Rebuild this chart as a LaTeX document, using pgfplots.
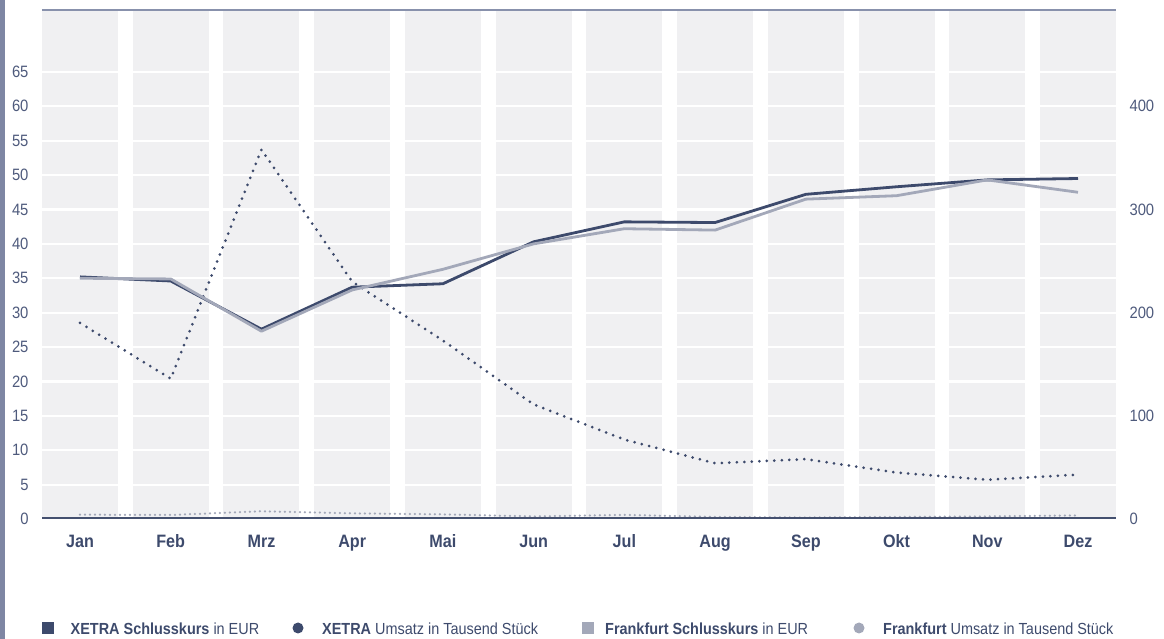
\documentclass[border=0pt]{standalone}
\usepackage{fontspec}
\setmainfont{Liberation Sans}[FakeStretch=0.9]
\usepackage{pgfplots}
\pgfplotsset{compat=1.18}
\definecolor{navy}{HTML}{3D4A6C}
\definecolor{lgray}{HTML}{A3A8B9}
\definecolor{band}{HTML}{F0F0F2}
\definecolor{strip}{HTML}{7E86A3}
\definecolor{tickc}{HTML}{4E5A7C}
\definecolor{topline}{HTML}{8891AC}
\definecolor{axisc}{HTML}{44506F}

\pgfplotstableread{
x xs fs xu fu
0 35.2 35.0 190 4.2
1 34.6 34.9 136 3.9
2 27.6 27.3 358 7.5
3 33.7 33.3 230 5.5
4 34.2 36.3 173 4.5
5 40.3 40.0 111 2.5
6 43.2 42.2 77 4.0
7 43.1 42.0 54 2.0
8 47.2 46.5 58 1.5
9 48.3 47.0 45 2.0
10 49.3 49.3 38 2.5
11 49.5 47.5 43 3.5
}\data

\pgfplotsset{base/.style={
  at={(42bp,120bp)}, anchor=south west, scale only axis,
  width=1074bp, height=509bp,
  xmin=-0.4188, xmax=11.4188,
  axis line style={draw=none}, major tick length=0pt,
  /pgf/number format/assume math mode=true,
  tick label style={font=\fontsize{16.5}{19}\selectfont, text=tickc},
}}

\begin{document}
\begin{tikzpicture}
\useasboundingbox (0,0) rectangle (1164bp,639bp);
\fill[strip] (0,0) rectangle (5bp,639bp);

\begin{axis}[base,
  ymin=0, ymax=74, ytick={0,5,...,65},
  yticklabel style={anchor=east, xshift=-10bp},
  xtick={0,...,11},
  xticklabels={Jan,Feb,Mrz,Apr,Mai,Jun,Jul,Aug,Sep,Okt,Nov,Dez},
  xticklabel style={anchor=base, yshift=-29bp, font=\bfseries\fontsize{18}{21}\selectfont, text=navy},
]
\pgfplotsinvokeforeach{0,...,11}{
  \fill[band] (axis cs:#1-0.4188,0) rectangle (axis cs:#1+0.4188,74);
}
\pgfplotsinvokeforeach{5,10,...,65}{
  \draw[white, line width=2.2bp] (axis cs:-0.4188,#1) -- (axis cs:11.4188,#1);
}
\draw[topline, line width=1.6bp] (rel axis cs:0,1) -- (rel axis cs:1,1);
\end{axis}

\begin{axis}[base,
  ymin=0, ymax=493.333, ytick={0,100,...,400},
  axis y line*=right, axis x line=none,
  yticklabel style={anchor=west, xshift=10bp},
  xtick=\empty,
]
\addplot[navy, line width=3bp, line cap=round, line join=round, dash pattern=on 0pt off 7.5bp] table[x=x,y=xu] {\data};
\end{axis}

\begin{axis}[base,
  ymin=0, ymax=74, ytick=\empty, xtick=\empty, axis x line=none, axis y line=none,
]
\addplot[navy, line width=2.8bp, line join=round] table[x=x,y=xs] {\data};
\addplot[lgray, line width=2.8bp, line join=round] table[x=x,y=fs] {\data};
\end{axis}

\begin{axis}[base,
  ymin=0, ymax=493.333, ytick=\empty, xtick=\empty, axis x line=none, axis y line=none,
]
\addplot[lgray, line width=2.5bp, line cap=round, dash pattern=on 0pt off 5bp] table[x=x,y=fu] {\data};
\draw[axisc, line width=3bp] (rel axis cs:0,0) -- (rel axis cs:1,0);
\end{axis}

\begin{scope}[every node/.style={inner sep=0pt, anchor=base west, text=navy, font=\fontsize{16.1}{18}\selectfont}]
\fill[navy] (42bp,5bp) rectangle (54bp,17bp);
\node at (70.5bp,5bp) {\textbf{XETRA Schlusskurs} in EUR};
\fill[navy] (298bp,11bp) circle (5.5bp);
\node at (322bp,5bp) {\textbf{XETRA} Umsatz in Tausend Stück};
\fill[lgray] (582bp,5bp) rectangle (594bp,17bp);
\node at (605bp,5bp) {\textbf{Frankfurt Schlusskurs} in EUR};
\fill[lgray] (859bp,11bp) circle (5.5bp);
\node at (883bp,5bp) {\textbf{Frankfurt} Umsatz in Tausend Stück};
\end{scope}
\end{tikzpicture}
\end{document}
